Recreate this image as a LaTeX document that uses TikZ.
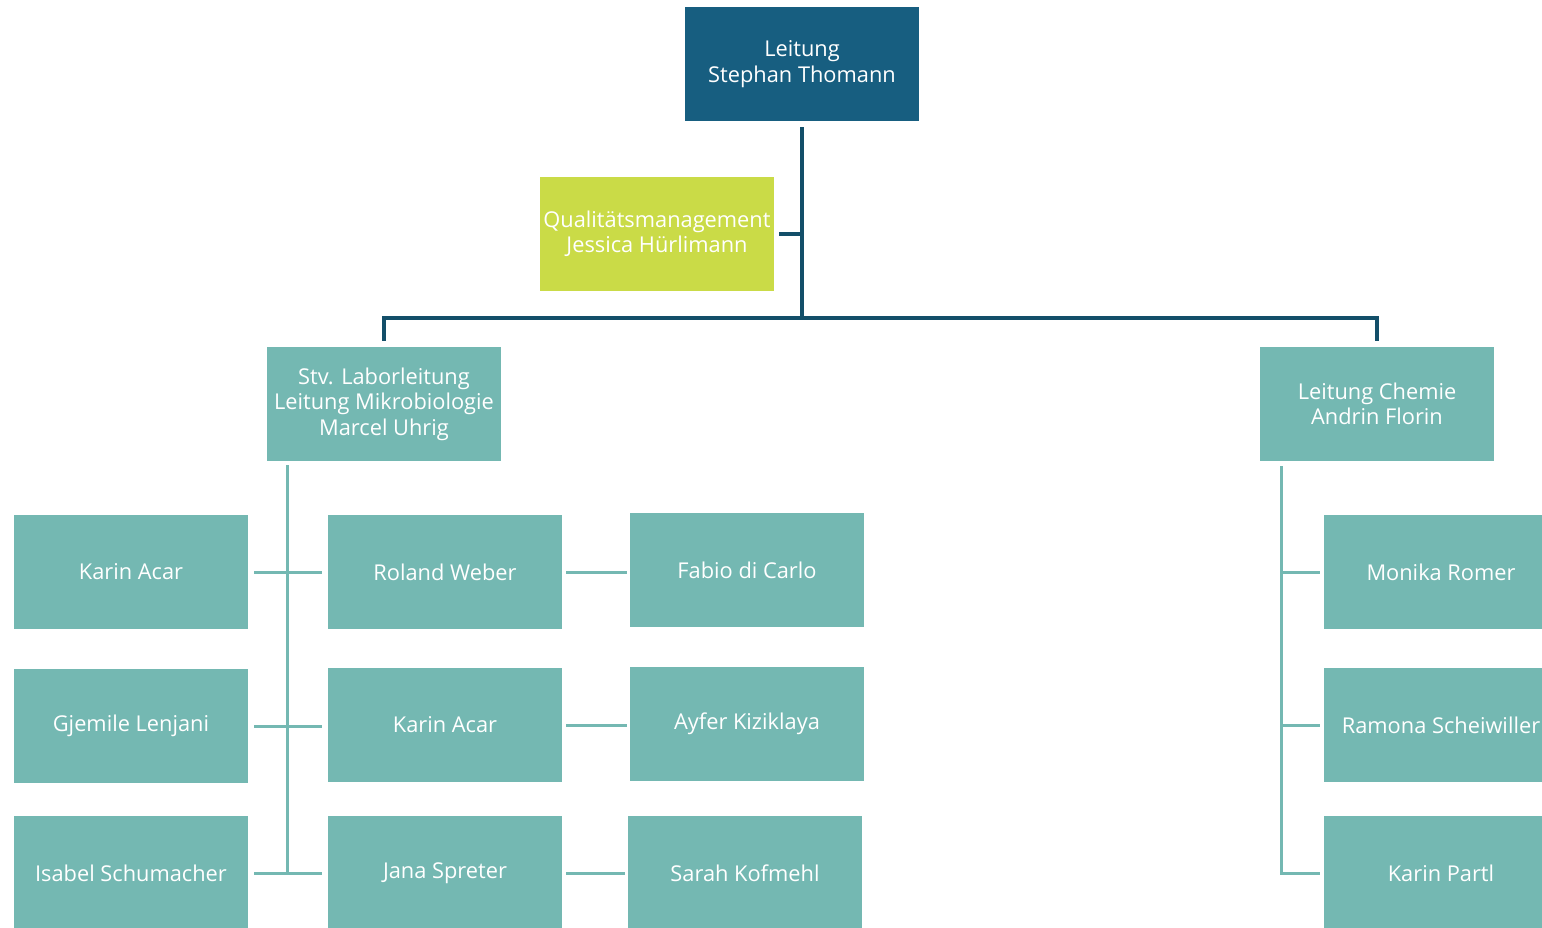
\documentclass[tikz,border=0pt]{standalone}
\usepackage{fontspec}
\setmainfont{Open Sans}
\usepackage{xcolor}
\usepackage{tikz}
\definecolor{leadblue}{HTML}{175E80}
\definecolor{linkblue}{HTML}{134F69}
\definecolor{qmgreen}{HTML}{CADB47}
\definecolor{staffteal}{HTML}{74B8B2}
\tikzset{
  box/.style={rectangle,minimum width=234pt,minimum height=114pt,inner sep=0pt,
              text=white,align=center,font=\fontsize{21.8}{25.5}\selectfont},
  leadbox/.style={box,fill=leadblue},
  qmbox/.style={box,fill=qmgreen},
  staffbox/.style={box,fill=staffteal},
  darklink/.style={draw=linkblue,line width=4pt},
  teallink/.style={draw=staffteal,line width=3pt},
}

\begin{document}
\begin{tikzpicture}[x=1pt,y=-1pt]
\useasboundingbox (0,0) rectangle (1542,928);
\clip (0,0) rectangle (1542,928);

\node[leadbox] (lead) at (802,64) {Leitung\\Stephan Thomann};
\node[qmbox] (qm) at (657,234) {Qualitätsmanagement\\Jessica Hürlimann};
\node[staffbox] (stv) at (384,404) {Stv. Laborleitung\\Leitung Mikrobiologie\\Marcel Uhrig};
\node[staffbox] (chem) at (1377,404) {Leitung Chemie\\Andrin Florin};

\foreach\y/\name[count=\i] in {572/Karin Acar,726/Gjemile Lenjani,873/Isabel Schumacher}{\node[staffbox] (l\i) at (131,\y) {\name};};
\foreach\y/\name[count=\i] in {572/Roland Weber,725/Karin Acar,873/Jana Spreter}{\node[staffbox] (m\i) at (445,\y) {\name};};
\foreach\x/\y/\name[count=\i] in {747/570/Fabio di Carlo,747/724/Ayfer Kiziklaya,745/873/Sarah Kofmehl}{\node[staffbox] (r\i) at (\x,\y) {\name};};
\foreach\y/\name[count=\i] in {572/Monika Romer,725/Ramona Scheiwiller,873/Karin Partl}{\node[staffbox] (c\i) at (1441,\y) {\name};};

\coordinate (bar) at (802,318);
\draw[darklink] ([yshift=-6pt]lead.south) -- (bar);
\draw[darklink] ([xshift=5pt]qm.east) -- (qm.east -| bar);
\draw[darklink] ([yshift=6pt]stv.north) |- (bar) -| ([yshift=6pt]chem.north);

\coordinate (stvtrunk) at ([xshift=21pt,yshift=-4pt]stv.south west);
\draw[teallink] (stvtrunk) -- (stvtrunk |- l3.east);
\foreach\i in {1,2,3}{\draw[teallink] ([xshift=6pt]l\i.east) -- ([xshift=-6pt]m\i.west |- l\i.east);};
\foreach\i in {1,2,3}{\draw[teallink] ([xshift=4pt]m\i.east) -- ([xshift=-3pt]r\i.west |- m\i.east);};

\coordinate (chemtrunk) at ([xshift=22pt,yshift=-5pt]chem.south west);
\draw[teallink] (chemtrunk) |- ([xshift=-4pt]c3.west);
\foreach\i in {1,2}{\draw[teallink] ([xshift=-4pt]c\i.west) -- (c\i.west -| chemtrunk);};
\end{tikzpicture}
\end{document}
